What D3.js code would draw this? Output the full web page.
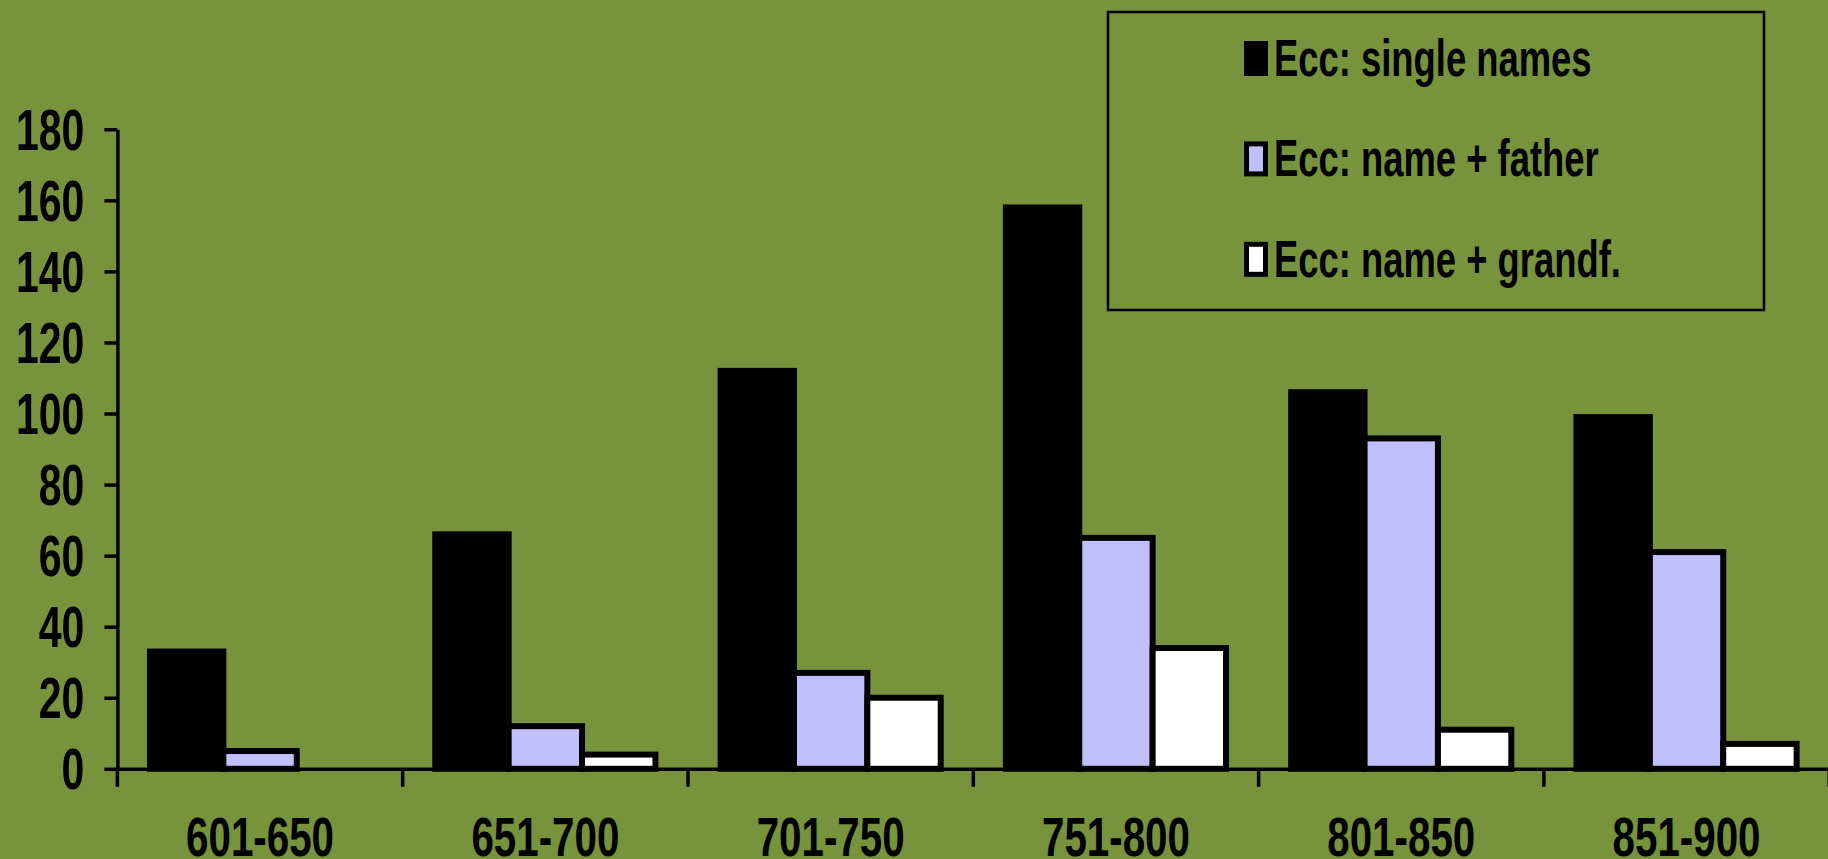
<!DOCTYPE html>
<html>
<head>
<meta charset="utf-8">
<script src="https://cdn.jsdelivr.net/npm/d3@7"></script>
<style>
  body { margin: 0; background: #77933C; }
  text { font-family: "Liberation Sans", Arial, sans-serif; font-weight: bold; fill: #000; }
</style>
</head>
<body>
<div id="chart"></div>
<script>
const categories = ['601-650', '651-700', '701-750', '751-800', '801-850', '851-900'];
const seriesNames = ['Ecc: single names', 'Ecc: name + father', 'Ecc: name + grandf.'];
const singleNames = [33, 66, 112, 158, 106, 99];
const nameFather = [5, 12, 27, 65, 93, 61];
const nameGrandf = [0, 4, 20, 34, 11, 7];
const yTicks = [0, 20, 40, 60, 80, 100, 120, 140, 160, 180];

const colors = ['#000000', '#C0C0FF', '#FFFFFF'];
const seriesValues = [singleNames, nameFather, nameGrandf];

const width = 1828;
const height = 859;
const narrow = 0.72;

const svg = d3.select('#chart').append('svg')
    .attr('width', width)
    .attr('height', height);

svg.append('rect')
    .attr('width', width)
    .attr('height', height)
    .attr('fill', '#77933C');

const x0 = d3.scaleBand().domain(categories).range([117.4, 1829.2]);
const x1 = d3.scaleBand().domain(d3.range(seriesNames.length))
    .range([0, x0.bandwidth()]).paddingOuter(0.444);
const y = d3.scaleLinear().domain([0, 180]).range([768.8, 129.3]);

// bars (zero values are not drawn)
const rows = [];
categories.forEach((c, i) => {
    seriesValues.forEach((vals, s) => {
        if (vals[i] > 0) rows.push({cat: c, s: s, v: vals[i]});
    });
});

svg.append('g').selectAll('rect')
    .data(rows)
    .join('rect')
    .attr('x', d => x0(d.cat) + x1(d.s))
    .attr('y', d => y(d.v))
    .attr('width', x1.bandwidth())
    .attr('height', d => y(0) - y(d.v))
    .attr('fill', d => colors[d.s])
    .attr('stroke', '#000')
    .attr('stroke-width', 6);

// y axis
const yAxis = d3.axisLeft(y).tickValues(yTicks).tickSize(13).tickSizeOuter(0);
const gy = svg.append('g')
    .attr('transform', `translate(${x0.range()[0]},0)`)
    .call(yAxis);
gy.select('.domain').attr('stroke-width', 3.5);
gy.selectAll('.tick line').attr('stroke-width', 3.5);
gy.selectAll('.tick text')
    .attr('x', null).attr('dy', null)
    .attr('font-size', 57)
    .attr('transform', `translate(-33,20) scale(${narrow},1)`);

// x axis
const xAxis = d3.axisBottom(x0).tickSize(0).tickSizeOuter(0);
const gx = svg.append('g')
    .attr('transform', `translate(0,${y(0)})`)
    .call(xAxis);
gx.select('.domain').attr('stroke-width', 3.5);
gx.selectAll('.tick text')
    .attr('y', null).attr('dy', null)
    .attr('font-size', 56)
    .attr('transform', `translate(0,87.5) scale(${narrow},1)`);

// category boundary ticks
const bounds = categories.map(c => x0(c)).concat([x0.range()[1]]);
gx.append('g').selectAll('line')
    .data(bounds)
    .join('line')
    .attr('x1', d => d).attr('x2', d => d)
    .attr('y1', 0).attr('y2', 18)
    .attr('stroke', '#000')
    .attr('stroke-width', 3.5);

// legend
const legend = svg.append('g');
legend.append('rect')
    .attr('x', 1108).attr('y', 12)
    .attr('width', 656).attr('height', 298)
    .attr('fill', 'none')
    .attr('stroke', '#000')
    .attr('stroke-width', 2.5);

const items = legend.selectAll('g.item')
    .data(seriesNames)
    .join('g')
    .attr('class', 'item')
    .attr('transform', (d, i) => `translate(1244,${76 + i * 100.4})`);

items.append('rect')
    .attr('x', 2.5).attr('y', -32.5)
    .attr('width', 19).attr('height', 30)
    .attr('fill', (d, i) => colors[i])
    .attr('stroke', '#000')
    .attr('stroke-width', 5);

items.append('text')
    .attr('transform', 'translate(30,0) scale(0.7,1)')
    .attr('font-size', 52)
    .text(d => d);
</script>
</body>
</html>
